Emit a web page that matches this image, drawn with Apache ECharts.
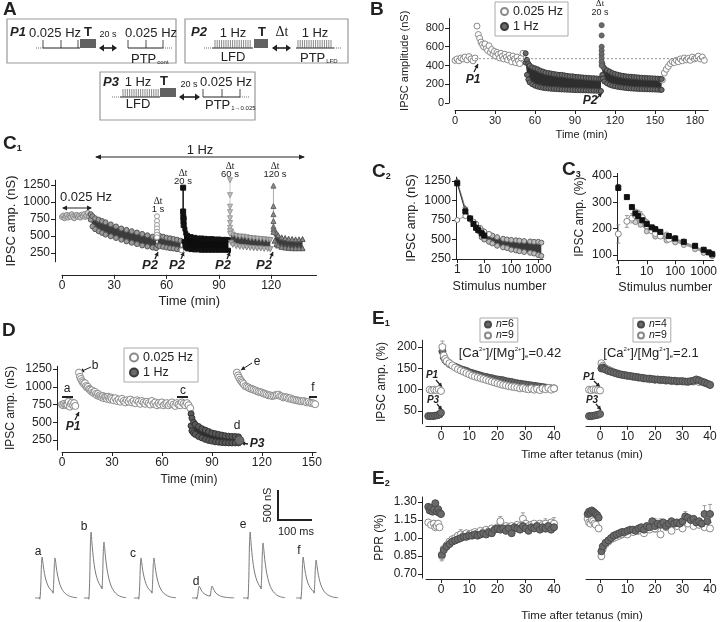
<!DOCTYPE html>
<html>
<head>
<meta charset="utf-8">
<script src="https://cdn.jsdelivr.net/npm/echarts@6/dist/echarts.min.js"></script>
<style>
html, body { margin: 0; padding: 0; background: #fff; }
#main { width: 720px; height: 622px; }
</style>
</head>
<body>
<div id="main"></div>
<script>
// ---- B: IPSC amplitude over time ----
var bSlowPre = [[0,455],[1.5,470],[3,450],[4.5,480],[6,470],[7.5,490],[9,460],[10.5,495],[12,470],[13.5,450],[15,480],
  [16.5,820],[17.5,730],[18.5,690],[19.5,650],[20.5,625],[21.5,600],[22.5,630],[23.5,580],[24.5,560],[25.5,610],[26.5,540],
  [27.5,570],[28.5,520],[29.5,550],[30.5,500],[31.5,540],[32.5,520],[33.5,480],[34.5,530],[35.5,500],[36.5,470],[37.5,520],
  [38.5,490],[39.5,460],[40.5,510],[41.5,480],[42.5,440],[43.5,500],[44.5,470],[45.5,430],[46.5,490],[47.5,450],[48.5,420],
  [49.5,480],[51,530]];
var bSlowPost = [[155.5,245],[157,320],[158.5,360],[160,390],[161.5,420],[163,440],[164.5,430],[166,455],[167.5,440],
  [169,470],[170.5,450],[172,480],[173.5,460],[175,475],[176.5,455],[178,490],[179.5,470],[181,480],[182.5,500],[184,470],
  [185.5,490],[187,455]];
var bFast1T  = [53,54,55,56,58,60,62,64,66,68,70,72,74,76,78,80,82,84,86,88,90,92,94,96,98,100,102,104,106,108,109.5];
var bFast1Hi = [530,460,420,400,380,370,360,345,335,325,320,315,310,305,300,300,295,290,285,285,280,278,275,272,270,268,265,265,262,260,258];
var bFast1Lo = [430,300,250,220,200,185,175,168,162,158,155,152,150,148,146,144,143,142,140,139,138,137,136,135,134,133,132,131,130,130,128];
var bSpike = [[110,830],[110,720],[110,600],[110,560],[110,520],[110,480],[110,440],[110,400]];
var bFast2T  = [110.5,111,112,114,116,118,120,122,124,126,128,130,132,134,136,138,140,142,144,146,148,150,152,154,155];
var bFast2Hi = [420,390,370,350,335,320,310,302,295,290,285,282,280,278,275,272,270,268,266,265,263,262,260,258,255];
var bFast2Lo = [300,260,230,210,195,185,178,172,168,164,160,157,155,153,151,150,148,147,146,145,144,143,142,140,140];
var bBaseX = [15, 187];
var bBaseV = 473;
var bTicksX = [0,30,60,90,120,150,180];
var bTicksY = [0,200,400,600,800];

// ---- C1 ----
var c1Slow = [[0,780],[0.7,800],[1.4,760],[2.1,790],[2.8,810],[3.5,770],[4.2,800],[4.9,780],[5.6,820],[6.3,790],[7,760],
  [7.7,800],[8.4,810],[9.1,780],[9.8,800],[10.5,770],[11.2,810],[11.9,790],[12.6,820],[13.3,780],[14,800],[14.7,840],[15.4,790],[16.1,810]];
var c1B1T  = [16.5,17.5,19,21,23,25,28,31,34,37,40,43,46,49,52,54];
var c1B1Hi = [820,790,760,740,720,700,670,640,610,590,570,550,530,510,490,470];
var c1B1Lo = [740,640,600,570,545,520,495,470,445,420,400,380,360,345,330,320];
var c1Sp1 = [[54.5,790],[54.5,720],[54.5,660],[54.5,610],[54.5,560],[54.5,520],[54.5,480]];
var c1B2T  = [55,56,58,60,62,64,66,68];
var c1B2Hi = [520,500,490,475,465,455,445,430];
var c1B2Lo = [360,350,340,330,320,315,305,300];
var c1Last = [[68.6,290]];
var c1Sp2 = [[69.5,1210],[69.5,860],[69.6,780],[69.7,720],[69.8,660]];
var c1B3T  = [70,70.5,71,72,74,76,78,80,82,84,86,88,90,92,94,95.5];
var c1B3Hi = [760,600,540,510,490,480,470,470,465,460,460,455,455,450,450,445];
var c1B3Lo = [420,360,330,310,300,295,295,290,290,290,290,290,290,290,290,290];
var c1Sp3 = [[96.4,1320],[96.4,1100],[96.4,930],[96.4,850],[96.4,760],[96.4,690],[96.4,620],[96.4,570],[96.4,530]];
var c1B4T  = [97,98,100,102,104,106,108,110,112,114,116,118,119.5];
var c1B4Hi = [560,520,500,490,490,480,470,465,460,455,450,445,440];
var c1B4Lo = [400,370,350,340,335,330,325,320,315,315,310,310,305];
var c1Sp4 = [[121.3,1240],[121.3,940],[121.3,820],[121.3,720],[121.3,640],[121.3,600],[121.3,560]];
var c1B5T  = [122,123,124,126,128,130,132,134,136,138];
var c1B5Hi = [590,540,510,480,470,460,455,450,450,455];
var c1B5Lo = [430,380,360,340,330,325,320,320,320,320];
var c1TicksX = [0,30,60,90,120];
var c1TicksY = [250,500,750,1000,1250];

// ---- C2 / C3 (log stimulus number) ----
var logTicks = [1,10,100,1000];
var c2Sq   = [[1,1220],[2,860],[3,770],[4,700],[5,650],[6,620],[8,580],[10,550]];
var c2Tri  = [[1,1250],[2,900],[3,780],[4,700],[5,660],[7,610],[10,570]];
var c2Inv  = [[1,1230],[2,880],[3,750],[4,690],[6,640],[8,600]];
var c2Open = [[1,750],[2,800],[3,760],[4,730],[5,700],[7,650],[10,600],[15,570]];
var c2CloudT  = [8,10,15,20,30,50,70,100,150,200,300,500,700,1000,1300];
var c2CloudHi = [620,600,570,550,530,510,500,495,490,485,480,475,470,470,460];
var c2CloudLo = [530,500,470,450,420,400,390,370,360,350,340,330,320,300,290];
var c2TicksY = [250,500,750,1000,1250];
var c3Sq   = [[1,355],[2,320],[3,282],[4,258],[5,248],[7,232],[10,218],[15,205],[20,198],[30,188],[60,172],[100,163],
  [200,150],[500,135],[1000,120],[1500,110],[2000,103]];
var c3Open = [[1,180],[2,228],[3,240],[4,250],[5,255],[6,250],[7,242],[8,230],[10,212],[15,192],[20,182],[30,172],[60,160],[2000,100]];
var c3OpenErr = [[1,145,215],[2,205,250],[3,222,258],[4,235,265],[5,240,270],[6,235,265]];
var c3SqErr = [[1,345,368]];
var c3CloudT  = [4,6,10,20,50,100,200,500,1000,2000];
var c3CloudHi = [265,250,225,200,178,165,152,135,120,106];
var c3CloudLo = [225,215,190,170,155,148,138,122,108,96];
var c3TicksY = [100,200,300,400];

// ---- D ----
var dSlowA = [[0,750],[0.7,740],[1.3,760],[2,745],[2.7,740],[3.3,750],[4,790],[4.7,720],[5.3,760],[6,780],[6.7,740],[7.3,770],[8,730]];
var dSlowB = [[10.2,1200],[10.8,1140],[11.4,1110],[12,1080],[12.6,1060],[13.2,1040],[13.8,1050],[14.4,1010],[15,990],[15.6,1000],
  [16.2,970],[16.8,960],[17.4,940],[18,950],[18.6,920],[19.2,910],[19.8,930],[20.4,900],[21,880],[21.6,900],[22.2,870],[22.8,880],
  [23.4,860],[24,850],[24.6,870],[25.2,840],[25.8,860],[26.4,850],[27,830],[27.6,860],[28.2,840],[28.8,820],[29.4,850],
  [30,830],[31,810],[32,840],[33,800],[34,820],[35,790],[36,830],[37,800],[38,780],[39,810],[40,790],[41,820],[42,780],[43,800],
  [44,770],[45,810],[46,790],[47,760],[48,800],[49,780],[50,760],[51,790],[52,770],[53,750],[54,800],[55,760],[56,780],[57,740],
  [58,770],[59,750],[60,780],[61,740],[62,760],[63,770],[64,740],[65,760],[66,780],[67,750],[68,730],[69,770],[70,750],[71,740],
  [72,780],[73,760],[74,740],[75,770],[76,740],[77,700]];
var dFastT  = [77.5,78,79,80,82,84,86,88,90,92,94,96,98,100,102,104,106];
var dFastHi = [620,560,500,470,440,410,390,370,350,340,330,320,310,305,300,300,295];
var dFastLo = [450,380,350,330,300,280,260,245,235,225,220,215,212,210,210,210,210];
var dLast = [[106.5,245]];
var dSlowE = [[105,1200],[105.7,1160],[106.3,1130],[107,1100],[107.7,1080],[108.3,1060],[109,1040],[110,1010],[111,1000],
  [112,990],[113,975],[114,970],[115,960],[116,950],[117,940],[118,930],[119,925],[120,920],[121,905],[122,900],[123,890],
  [124,880],[125,880],[126,870],[127,875],[128,880],[129,885],[130,890],[131,870],[132,865],[133,850],[134,855],[135,850],
  [136,835],[137,840],[138,825],[139,820],[140,815],[141,810],[142,805],[143,800],[144,795],[145,800],[146,790],[147,780],
  [148,790],[149,775],[150,770],[151,765],[152,755]];
var dTicksX = [0,30,60,90,120,150];
var dTicksY = [250,500,750,1000,1250];

// ---- D traces (ms, nS) ----
var trT = [0,10,13,14,15,17,19,21,23,26,30,35,41,48,51,52,53,55,57,59,61,64,68,73,80,88,98,110,124];
var trA = [0,0,15,-20,10,200,560,683,600,470,350,250,175,125,105,120,80,250,560,667,590,460,340,230,140,80,40,15,5];
var trB = [0,0,15,-20,10,320,900,1100,960,760,560,400,285,205,175,200,150,380,780,933,830,650,480,330,200,115,55,20,5];
var trC = [0,0,15,-20,10,200,550,667,590,460,345,245,170,122,102,118,80,250,560,667,590,460,335,225,138,78,38,14,5];
var trD = [0,0,15,-20,5,60,165,200,180,140,105,75,53,38,32,45,30,80,170,200,178,140,100,68,42,24,12,5,2];
var trE = [0,0,15,-20,10,320,900,1100,960,760,560,400,285,205,175,200,150,380,770,917,815,640,470,325,195,112,54,20,5];
var trF = [0,0,15,-20,10,200,560,683,600,470,350,250,175,125,105,120,80,240,530,633,560,440,320,218,132,76,38,14,5];
var trNames = ['a','b','c','d','e','f'];

// ---- E1: IPSC amp (%) after tetanus ----
var e1LPreOpen = [[-4,100],[-3.2,98],[-2.4,100],[-1.6,99],[-0.8,101],[0,97]];
var e1LPreFill = [[-4.5,38],[-3.7,38],[-2.9,38],[-2.1,39],[-1.3,40],[-0.5,42],[0,46]];
var e1LFill = [[0.5,190],[1,176],[1.5,170],[2,166],[3,161],[4,157],[5,154],[6,151],[7,148],[8,146],[9,144],[10,141],[11,139],
  [12,137],[13,135],[14,133],[15,131],[16,130],[17,128],[18,127],[19,125],[20,124],[21,123],[22,122],[23,120],[24,119],[25,118],
  [26,116],[27,115],[28,114],[29,113],[30,112],[31,111],[32,110],[33,109],[34,108],[35,107],[36,106],[37,105],[38,104],[39,103],[40,103]];
var e1LOpen = [[0.5,200],[1,180],[1.5,172],[2,167],[3,162],[4,157],[5,152],[6,148],[7,145],[8,142],[9,139],[10,136],[11,133],
  [12,131],[13,129],[14,127],[15,125],[16,123],[17,121],[18,119],[19,117],[20,115],[21,113],[22,111],[23,110],[24,108],[25,107],
  [26,106],[27,105],[28,103],[29,104],[30,102],[31,101],[32,103],[33,100],[34,102],[35,99],[36,103],[37,101],[38,104],[39,100],[40,103]];
var e1LErr = [[0.5,186,214],[1,168,188],[2,158,175],[3,152,170],[5,145,160],[8,136,150]];
var e1RPreOpen = [[-4,100],[-3.2,99],[-2.4,101],[-1.6,100],[-0.8,99],[0,98]];
var e1RPreFill = [[-4,38],[-3.2,38],[-2.4,39],[-1.6,40],[-0.8,41],[0,43]];
var e1RFill = [[0.5,150],[1,152],[1.5,149],[2,147],[3,144],[4,142],[5,140],[6,138],[7,136],[8,135],[9,134],[10,133],[11,132],
  [12,131],[13,130],[14,129],[15,128],[16,127],[17,126],[18,126],[19,125],[20,124],[21,124],[22,123],[23,123],[24,122],[25,122],
  [26,121],[27,121],[28,120],[29,120],[30,120],[31,119],[32,119],[33,120],[34,121],[35,124],[36,122],[37,119],[38,117],[39,114],[40,111]];
var e1ROpen = [[0.5,162],[1,156],[1.5,152],[2,150],[3,147],[4,144],[5,141],[6,139],[7,137],[8,135],[9,134],[10,132],[12,130],
  [14,128],[16,126],[18,124],[20,123],[22,122],[24,121],[26,120],[28,119],[30,119],[32,118],[34,119],[36,118],[38,116],[40,112]];
var e1RErr = [[0.5,142,168],[1,146,160],[35,118,130]];
var e1TicksX = [0,10,20,30,40];
var e1TicksY = [50,100,150,200];

// ---- E2: PPR ----
var e2LPreFill = [[-4.5,1.26],[-4,1.23],[-3.5,1.25],[-3,1.22],[-2.5,1.24],[-2,1.29],[-1.5,1.22],[-1,1.24],[-0.5,1.21],[0,1.2]];
var e2LPreOpen = [[-4.5,1.13],[-3.5,1.11],[-2.5,1.12],[-2,1.09],[-1.5,1.10],[-1,1.12],[-0.5,1.09]];
var e2LFill = [[0.3,0.86],[1,0.90],[2,0.93],[3,0.95],[4,0.97],[5,0.98],[6,0.99],[7,1.00],[8,1.01],[9,1.01],[10,1.02],[11,1.02],
  [12,1.03],[13,1.02],[14,1.03],[15,1.04],[16,1.03],[17,1.05],[18,1.04],[19,1.07],[20,1.08],[21,1.07],[22,1.08],[23,1.06],
  [24,1.08],[25,1.04],[26,1.09],[27,1.08],[28,1.07],[29,1.10],[30,1.08],[31,1.06],[32,1.09],[33,1.08],[34,1.10],[35,1.07],
  [36,1.09],[37,1.08],[38,1.10],[39,1.07],[40,1.09]];
var e2LOpen = [[0.3,0.85],[1,0.91],[2,0.94],[3,0.97],[4,0.99],[5,1.00],[6,1.02],[7,1.03],[8,1.02],[9,1.04],[10,1.03],[11,1.04],
  [12,1.05],[13,1.04],[14,1.06],[15,1.05],[16,1.07],[17,1.06],[18,1.08],[19,1.07],[20,1.09],[21,1.14],[22,1.08],[23,1.10],
  [24,1.09],[25,1.10],[26,1.08],[27,1.11],[28,1.10],[29,1.16],[30,1.12],[31,1.10],[32,1.11],[33,1.12],[34,1.10],[35,1.12],
  [36,1.11],[37,1.12],[38,1.10],[39,1.13],[40,1.12]];
var e2LErr = [[0.3,0.81,0.90],[7,0.99,1.07],[21,1.10,1.18],[29,1.11,1.21],[37,1.05,1.16],[40,1.08,1.17]];
var e2RPreFill = [[-4.5,1.20],[-4,1.22],[-3.5,1.21],[-3,1.23],[-2.5,1.22],[-2,1.21],[-1.5,1.20],[-1,1.19],[-0.5,1.17]];
var e2RPreOpen = [[-4.5,1.16],[-4,1.13],[-3.5,1.12],[-3,1.15],[-2.5,1.14],[-2,1.12],[-1.5,1.11],[-0.5,1.08]];
var e2RFill = [[0.5,0.89],[1,0.93],[2,0.96],[3,0.98],[4,1.00],[5,1.02],[6,1.03],[7,1.04],[8,1.05],[9,1.05],[10,1.06],[11,1.07],
  [12,1.07],[13,1.06],[14,1.08],[15,1.09],[16,1.07],[17,1.10],[18,1.09],[19,1.14],[20,1.10],[21,1.12],[22,1.11],[23,1.13],
  [24,1.10],[25,1.12],[26,1.14],[27,1.12],[28,1.13],[29,1.12],[30,1.14],[31,1.18],[32,1.17],[33,1.15],[34,1.16],[35,1.13],
  [36,1.14],[37,1.12],[38,1.20],[39,1.14],[40,1.20]];
var e2ROpen = [[0.5,0.85],[1,0.91],[2,0.95],[3,0.97],[4,0.99],[5,1.00],[6,1.01],[7,1.02],[8,1.03],[9,1.04],[10,1.03],[12,1.05],
  [14,1.06],[16,1.04],[18,1.07],[20,1.08],[22,1.03],[24,1.09],[26,1.06],[28,1.10],[30,1.08],[32,1.12],[34,1.10],[36,1.11],
  [38,1.09],[40,1.08]];
var e2RErr = [[0.5,0.82,0.90],[20,1.05,1.16],[22,1.04,1.16],[31,1.12,1.22],[38,1.13,1.27],[40,1.13,1.28]];
var e2TicksY = [0.70,0.85,1.00,1.15,1.30];

var FF = '"Liberation Sans", Arial, sans-serif';
var INK = '#222';
var chart = echarts.init(document.getElementById('main'));

// ---------- helpers ----------
function plain(v) { return String(v); }
function xAx(i, type, min, max, ticks, extra) {
  return Object.assign({
    type: type, gridIndex: i, min: min, max: max, splitLine: { show: false },
    axisLine: { show: true, onZero: false, lineStyle: { color: INK, width: 1 } },
    axisTick: { show: true, length: 4, customValues: ticks, lineStyle: { color: INK } },
    axisLabel: { customValues: ticks, fontSize: 12, color: INK, fontFamily: FF, margin: 5, formatter: plain },
    minorTick: { show: false }
  }, extra || {});
}
function yAx(i, type, min, max, ticks, extra) {
  return xAx(i, type, min, max, ticks, extra);
}
function nm(txt, gap, size) {
  return { name: txt, nameLocation: 'middle', nameGap: gap,
    nameTextStyle: { fontSize: size || 12, color: INK, fontFamily: FF, fontWeight: 'normal' } };
}
function sc(i, name, data, sym, size, fill, stroke, extra) {
  return Object.assign({ type: 'scatter', name: name, xAxisIndex: i, yAxisIndex: i, data: data, symbol: sym, symbolSize: size,
    itemStyle: { color: fill, borderColor: stroke, borderWidth: 1, opacity: 1 }, silent: true }, extra || {});
}
function lm(i, name, data, sym, size, fill, stroke, lineColor, extra) {
  return Object.assign({ type: 'line', name: name, xAxisIndex: i, yAxisIndex: i, data: data, symbol: sym, symbolSize: size,
    showSymbol: true, itemStyle: { color: fill, borderColor: stroke, borderWidth: 1 },
    lineStyle: { color: lineColor, width: 1 }, silent: true }, extra || {});
}
function band(i, T, hi, lo, color) {
  return { type: 'custom', xAxisIndex: i, yAxisIndex: i, data: [[T[0], hi[0]]], silent: true,
    renderItem: function (p, api) {
      var pts = [];
      for (var k = 0; k < T.length; k++) pts.push(api.coord([T[k], hi[k]]));
      for (var j = T.length - 1; j >= 0; j--) pts.push(api.coord([T[j], lo[j]]));
      return { type: 'polygon', shape: { points: pts }, style: { fill: color } };
    } };
}
function edgeData(T, hi, lo) {
  var d = [];
  for (var k = 0; k < T.length; k++) { d.push([T[k], hi[k]]); d.push([T[k], lo[k]]); }
  return d;
}
function errs(i, data, color) {
  return { type: 'custom', xAxisIndex: i, yAxisIndex: i, data: data, silent: true, z: 1,
    renderItem: function (p, api) {
      var a = api.coord([api.value(0), api.value(1)]);
      var b = api.coord([api.value(0), api.value(2)]);
      var st = { stroke: color, lineWidth: 0.8 };
      return { type: 'group', children: [
        { type: 'line', shape: { x1: a[0], y1: a[1], x2: b[0], y2: b[1] }, style: st },
        { type: 'line', shape: { x1: a[0] - 2, y1: a[1], x2: a[0] + 2, y2: a[1] }, style: st },
        { type: 'line', shape: { x1: b[0] - 2, y1: b[1], x2: b[0] + 2, y2: b[1] }, style: st }
      ] };
    } };
}
function trace(i, vals, off, name) {
  var d = [];
  for (var k = 0; k < trT.length; k++) d.push([trT[k] + off, vals[k]]);
  return { type: 'line', name: 'trace ' + name, xAxisIndex: i, yAxisIndex: i, data: d, symbol: 'none', smooth: 0.3,
    lineStyle: { color: '#7a7a7a', width: 1 }, silent: true };
}

// ---------- graphics (schematics, labels, arrows) ----------
var G = [];
function T(x, y, s, size, opt) {
  opt = opt || {};
  G.push({ type: 'text', x: x, y: y, silent: true, rotation: opt.rot || 0,
    style: { text: s, fontSize: size, fontFamily: opt.ff || FF, fontWeight: opt.fw || 'normal', fontStyle: opt.fs || 'normal',
      fill: opt.fill || INK, align: opt.align || 'center', verticalAlign: opt.va || 'middle', rich: opt.rich } });
}
function L(x1, y1, x2, y2, w, c, dash) {
  G.push({ type: 'line', silent: true, shape: { x1: x1, y1: y1, x2: x2, y2: y2 },
    style: { stroke: c || INK, lineWidth: w || 1, lineDash: dash || null } });
}
function R(x, y, w, h, fill, stroke, lw) {
  G.push({ type: 'rect', silent: true, shape: { x: x, y: y, width: w, height: h },
    style: { fill: fill || 'none', stroke: stroke || null, lineWidth: lw || 1 } });
}
function head(x, y, a, len, wid) {
  var c = Math.cos(a), s = Math.sin(a);
  G.push({ type: 'polygon', silent: true, shape: { points: [[x, y], [x - len * c + wid * s, y - len * s - wid * c], [x - len * c - wid * s, y - len * s + wid * c]] },
    style: { fill: INK } });
}
function AR(x1, y1, x2, y2, w) {
  L(x1, y1, x2, y2, w || 1.3);
  head(x2, y2, Math.atan2(y2 - y1, x2 - x1), 4, 2.2);
}
function DAR(x1, x2, y, w, len, wid) {
  L(x1 + 1, y, x2 - 1, y, w);
  head(x2, y, 0, len, wid);
  head(x1, y, Math.PI, len, wid);
}
function dense(x1, x2, y1, y2) {
  for (var x = x1; x <= x2; x += 2.2) L(x, y1, x, y2, 0.7, '#555');
}
function tet(x, y, w, h) {
  R(x, y, w, h, '#4a4a4a');
  for (var k = x + 1; k < x + w; k += 2) L(k, y, k, y + h, 0.6, '#9a9a9a');
}
var subRich = { m: { fontSize: 13, fontFamily: FF, fill: INK }, s: { fontSize: 6, fontFamily: FF, verticalAlign: 'bottom', padding: [0, 0, 0, 1] } };
var letterRich = { m: { fontSize: 19, fontWeight: 'bold', fontFamily: FF }, s: { fontSize: 9, fontWeight: 'bold', fontFamily: FF, verticalAlign: 'bottom' } };

// panel letters
T(3, 10, 'A', 19, { fw: 'bold', align: 'left' });
T(370, 10, 'B', 19, { fw: 'bold', align: 'left' });
T(3, 144, '{m|C}{s|1}', 19, { align: 'left', rich: letterRich });
T(372, 172, '{m|C}{s|2}', 19, { align: 'left', rich: letterRich });
T(562, 170, '{m|C}{s|3}', 19, { align: 'left', rich: letterRich });
T(2, 331, 'D', 19, { fw: 'bold', align: 'left' });
T(372, 319, '{m|E}{s|1}', 19, { align: 'left', rich: letterRich });
T(372, 479, '{m|E}{s|2}', 19, { align: 'left', rich: letterRich });

// A: protocols
R(7, 19, 169, 44, '#fff', '#999', 1.2);
R(185, 19, 163, 44, '#fff', '#999', 1.2);
R(100, 72, 155, 48, '#fff', '#999', 1.2);
var pb = { fw: 'bold', fs: 'italic', align: 'left' };
T(10, 32, 'P1', 13, pb);
T(55, 33, '0.025 Hz', 13);
T(88, 32, 'T', 13, { fw: 'bold' });
T(108, 35, '20 s', 9);
T(151, 33, '0.025 Hz', 13);
L(36, 48, 43, 48, 1, '#777', [1, 1]);
L(43, 48, 80, 48, 1);
L(43, 40, 43, 48, 0.8); L(61, 40, 61, 48, 0.8); L(78, 40, 78, 48, 0.8);
tet(80, 39, 16, 9);
DAR(99, 117, 48, 1.6, 5, 3.5);
L(128, 48, 163, 48, 1);
L(128, 40, 128, 48, 0.8); L(146, 40, 146, 48, 0.8); L(163, 40, 163, 48, 0.8);
L(163, 48, 172, 48, 1, '#777', [1, 1]);
T(131, 59, '{m|PTP}{s|cont}', 13, { align: 'left', rich: subRich });

T(191, 32, 'P2', 13, pb);
T(233, 33, '1 Hz', 13);
L(204, 48, 212, 48, 1, '#777', [1, 1]);
L(212, 48, 253, 48, 1);
dense(215, 252, 40, 48);
tet(254, 39, 14, 9);
T(262, 32, 'T', 13, { fw: 'bold' });
T(282, 32, '\u0394t', 14, { ff: '"Liberation Serif", serif' });
DAR(272, 291, 48, 1.6, 5, 3.5);
T(315, 33, '1 Hz', 13);
L(296, 48, 334, 48, 1);
dense(298, 333, 40, 48);
L(334, 48, 342, 48, 1, '#777', [1, 1]);
T(233, 57, 'LFD', 13);
T(300, 58, '{m|PTP}{s|LFD}', 13, { align: 'left', rich: subRich });

T(103, 82, 'P3', 13, pb);
T(138, 82, '1 Hz', 13);
L(112, 97, 120, 97, 1, '#777', [1, 1]);
L(120, 97, 160, 97, 1);
dense(123, 159, 89, 97);
tet(160, 88, 16, 9);
T(164, 81, 'T', 13, { fw: 'bold' });
T(189, 85, '20 s', 9);
DAR(179, 200, 97, 1.6, 5, 3.5);
T(226, 82, '0.025 Hz', 13);
L(203, 97, 240, 97, 1);
L(203, 89, 203, 97, 0.8); L(222, 89, 222, 97, 0.8); L(240, 89, 240, 97, 0.8);
L(240, 97, 249, 97, 1, '#777', [1, 1]);
T(138, 104, 'LFD', 13);
T(205, 105, '{m|PTP}{s|1\u21920.025}', 13, { align: 'left', rich: subRich });

// B annotations
T(600, 4, '\u0394t', 9, { ff: '"Liberation Serif", serif' });
T(600, 13, '20 s', 9);
T(473, 80, 'P1', 12, { fw: 'bold', fs: 'italic' });
AR(474, 72, 478, 64);
T(590, 101, 'P2', 12, { fw: 'bold', fs: 'italic' });
AR(596, 99, 602, 93);

// C1 annotations
T(200, 150, '1 Hz', 13);
DAR(95, 305, 157, 1, 6, 2.5);
T(86, 197, '0.025 Hz', 13);
DAR(62, 92, 208, 1, 5, 2.5);
var dtS = { ff: '"Liberation Serif", serif' };
T(158, 201, '\u0394t', 9.5, dtS); T(158, 209, '1 s', 9.5);
T(183, 173, '\u0394t', 9.5, dtS); T(183, 181, '20 s', 9.5);
T(230, 166, '\u0394t', 9.5, dtS); T(230, 174, '60 s', 9.5);
T(275, 166, '\u0394t', 9.5, dtS); T(275, 174, '120 s', 9.5);
var p2x = [150, 177, 223, 264], p2t = [157, 183, 229, 272];
for (var q = 0; q < 4; q++) {
  T(p2x[q], 265, 'P2', 13, { fw: 'bold', fs: 'italic' });
  AR(p2t[q] - 2, 259, p2t[q] + 1, 252);
}

// D annotations
L(62, 397, 73, 397, 2); T(67, 389, 'a', 12);
L(177, 397, 188, 397, 2); T(183, 391, 'c', 12);
L(309, 397, 317, 397, 2); T(313, 388, 'f', 12);
T(95, 366, 'b', 12); AR(91, 367, 80, 372, 1);
T(257, 362, 'e', 12); AR(252, 363, 241, 370, 1);
T(237, 426, 'd', 12);
T(73, 427, 'P1', 12, { fw: 'bold', fs: 'italic' }); AR(75, 420, 79, 412);
T(257, 444, 'P3', 12, { fw: 'bold', fs: 'italic' }); AR(248, 444, 241, 443);

// traces: labels and scale bar
var trLab = [[38, 552], [84, 527], [133, 554], [196, 582], [243, 525], [299, 551]];
for (var q2 = 0; q2 < 6; q2++) T(trLab[q2][0], trLab[q2][1], trNames[q2], 12);
L(278, 490, 278, 521, 2);
L(277, 520, 312, 520, 2);
T(268, 505, '500 nS', 11, { rot: Math.PI / 2 });
T(296, 532, '100 ms', 11);

// E annotations
var caRich = { m: { fontSize: 13, fontFamily: FF }, p: { fontSize: 6, fontFamily: FF, verticalAlign: 'top' }, s: { fontSize: 6, fontFamily: FF, verticalAlign: 'bottom' } };
T(510, 353, '{m|[Ca}{p|2+}{m|]/[Mg}{p|2+}{m|]}{s|e}{m|=0.42}', 13, { rich: caRich });
T(651, 353, '{m|[Ca}{p|2+}{m|]/[Mg}{p|2+}{m|]}{s|e}{m|=2.1}', 13, { rich: caRich });
var pe = { fw: 'bold', fs: 'italic' };
T(432, 375, 'P1', 10, pe); AR(436, 380, 442, 387, 1.2);
T(433, 400, 'P3', 10, pe); AR(437, 404, 442, 410, 1.2);
T(589, 377, 'P1', 10, pe); AR(594, 381, 600, 387, 1.2);
T(592, 400, 'P3', 10, pe); AR(596, 404, 601, 410, 1.2);
T(582, 455, 'Time after tetanus (min)', 11.5);
T(582, 616, 'Time after tetanus (min)', 11.5);

// ---------- axes ----------
var grids = [
  { left: 455, top: 18.6, width: 253.3, height: 84.4 },   // 0 B
  { left: 62, top: 180.2, width: 254.5, height: 81.6 },   // 1 C1
  { left: 456, top: 177.1, width: 87, height: 81.9 },     // 2 C2
  { left: 617, top: 173.4, width: 99.6, height: 86.9 },   // 3 C3
  { left: 62, top: 366.2, width: 254, height: 83.8 },     // 4 D
  { left: 35, top: 520, width: 310, height: 90 },         // 5 traces
  { left: 426, top: 340.2, width: 128, height: 83.6 },    // 6 E1 left
  { left: 586, top: 340.2, width: 124, height: 83.6 },    // 7 E1 right
  { left: 426, top: 497, width: 128, height: 81 },        // 8 E2 left
  { left: 586, top: 497, width: 124, height: 81 }         // 9 E2 right
];
var e2fmt = function (v) { return Number(v).toFixed(2); };
var smallLab = function (ticks) { return { customValues: ticks, fontSize: 11, color: INK, fontFamily: FF, margin: 5, formatter: plain }; };
var xAxes = [
  xAx(0, 'value', 0, 190, bTicksX, Object.assign({ offset: 7, axisLabel: smallLab(bTicksX) }, nm('Time (min)', 19, 11))),
  xAx(1, 'value', 0, 146, c1TicksX, Object.assign({ offset: 13 }, nm('Time (min)', 20, 13))),
  xAx(2, 'log', 0.9, 1500, logTicks, Object.assign({ logBase: 10 }, nm('Stimulus number', 21, 12.5))),
  xAx(3, 'log', 0.9, 2200, logTicks, Object.assign({ logBase: 10 }, nm('Stimulus number', 21, 12.5))),
  xAx(4, 'value', 0, 152.5, dTicksX, Object.assign({ offset: 2 }, nm('Time (min)', 22, 12))),
  { type: 'value', gridIndex: 5, min: 0, max: 912, show: false },
  xAx(6, 'value', -5.3, 40, e1TicksX, { offset: 2 }),
  xAx(7, 'value', -5.1, 40, e1TicksX, { offset: 2 }),
  xAx(8, 'value', -5.3, 40, e1TicksX, { offset: 1 }),
  xAx(9, 'value', -5.1, 40, e1TicksX, { offset: 1 })
];
var yAxes = [
  yAx(0, 'value', 0, 900, bTicksY, Object.assign({ offset: 6, axisLabel: smallLab(bTicksY) }, nm('IPSC amplitude (nS)', 39, 11))),
  yAx(1, 'value', 120, 1320, c1TicksY, Object.assign({ offset: 7 }, nm('IPSC amp. (nS)', 37, 13))),
  yAx(2, 'value', 250, 1300, c2TicksY, nm('IPSC amp. (nS)', 38, 12.5)),
  yAx(3, 'value', 80, 410, c3TicksY, nm('IPSC amp. (%)', 31, 12)),
  yAx(4, 'value', 110, 1290, dTicksY, Object.assign({ offset: 5 }, nm('IPSC amp. (nS)', 40, 12))),
  { type: 'value', gridIndex: 5, min: -200, max: 1300, show: false },
  yAx(6, 'value', 20, 216, e1TicksY, Object.assign({ offset: 4 }, nm('IPSC amp. (%)', 34, 12))),
  { type: 'value', gridIndex: 7, min: 20, max: 216, show: false },
  yAx(8, 'value', 0.667, 1.342, e2TicksY, Object.assign({ offset: 4, axisLabel: { customValues: e2TicksY, fontSize: 12, color: INK, fontFamily: FF, margin: 5, formatter: e2fmt } }, nm('PPR (%)', 36, 12))),
  { type: 'value', gridIndex: 9, min: 0.667, max: 1.342, show: false }
];

// ---------- series ----------
var OPEN = ['#fff', '#8a8a8a'];
var series = [
  // B
  { type: 'line', name: 'baseline', xAxisIndex: 0, yAxisIndex: 0, data: bBaseX.map(function (x) { return [x, bBaseV]; }),
    symbol: 'none', lineStyle: { color: '#777', width: 0.8, type: [2, 2] }, silent: true },
  sc(0, '0.025 Hz', bSlowPre, 'circle', 6, OPEN[0], OPEN[1]),
  sc(0, '0.025 Hz', bSlowPost, 'circle', 6, OPEN[0], OPEN[1]),
  band(0, bFast1T, bFast1Hi, bFast1Lo, '#2e2e2e'),
  band(0, bFast2T, bFast2Hi, bFast2Lo, '#2e2e2e'),
  sc(0, '1 Hz', edgeData(bFast1T, bFast1Hi, bFast1Lo), 'circle', 5, '#6a6a6a', '#3a3a3a'),
  sc(0, '1 Hz', edgeData(bFast2T, bFast2Hi, bFast2Lo), 'circle', 5, '#6a6a6a', '#3a3a3a'),
  sc(0, '1 Hz', bSpike, 'circle', 5, '#6a6a6a', '#5a5a5a'),

  // C1
  sc(1, 'c1 ctrl', c1Slow, 'circle', 5, '#c8c8c8', '#888'),
  band(1, c1B1T, c1B1Hi, c1B1Lo, '#3c3c3c'),
  sc(1, 'c1 ctrl', edgeData(c1B1T, c1B1Hi, c1B1Lo), 'circle', 5, '#9a9a9a', '#555'),
  lm(1, 'c1 1s', c1Sp1, 'circle', 5, '#fff', '#999', '#bbb'),
  band(1, c1B2T, c1B2Hi, c1B2Lo, '#3c3c3c'),
  sc(1, 'c1 ctrl', edgeData(c1B2T, c1B2Hi, c1B2Lo), 'circle', 5, '#9a9a9a', '#555'),
  sc(1, 'c1 ctrl', c1Last, 'circle', 5, '#fff', '#888'),
  band(1, c1B3T, c1B3Hi, c1B3Lo, '#0c0c0c'),
  sc(1, 'c1 20s', edgeData(c1B3T, c1B3Hi, c1B3Lo), 'rect', 4, '#111', '#111'),
  lm(1, 'c1 20s', c1Sp2, 'rect', 5, '#111', '#111', '#111', { lineStyle: { color: '#111', width: 1.5 } }),
  band(1, c1B4T, c1B4Hi, c1B4Lo, '#3c3c3c'),
  sc(1, 'c1 60s', edgeData(c1B4T, c1B4Hi, c1B4Lo), 'triangle', 5, '#b5b5b5', '#888', { symbolRotate: 180 }),
  lm(1, 'c1 60s', c1Sp3, 'triangle', 5, '#c0c0c0', '#999', '#c8c8c8', { symbolRotate: 180 }),
  band(1, c1B5T, c1B5Hi, c1B5Lo, '#3c3c3c'),
  sc(1, 'c1 120s', edgeData(c1B5T, c1B5Hi, c1B5Lo), 'triangle', 5, '#8a8a8a', '#555'),
  lm(1, 'c1 120s', c1Sp4, 'triangle', 5, '#8a8a8a', '#666', '#aaa'),

  // C2
  band(2, c2CloudT, c2CloudHi, c2CloudLo, '#3a3a3a'),
  sc(2, 'c2 cloud', edgeData(c2CloudT, c2CloudHi, c2CloudLo), 'circle', 5, '#bbb', '#666'),
  lm(2, 'c2 ctrl', c2Open, 'circle', 5, '#fff', '#777', '#999'),
  lm(2, 'c2 60s', c2Inv, 'triangle', 5, '#bbb', '#888', '#aaa', { symbolRotate: 180 }),
  lm(2, 'c2 120s', c2Tri, 'triangle', 5, '#888', '#555', '#888'),
  lm(2, 'c2 20s', c2Sq, 'rect', 5, '#111', '#111', '#333'),

  // C3
  band(3, c3CloudT, c3CloudHi, c3CloudLo, '#9a9a9a'),
  sc(3, 'c3 cloud', edgeData(c3CloudT, c3CloudHi, c3CloudLo), 'circle', 5, '#ccc', '#888'),
  errs(3, c3OpenErr, '#888'),
  errs(3, c3SqErr, '#222'),
  lm(3, 'c3 ctrl', c3Open, 'circle', 6, '#fff', '#888', 'rgba(0,0,0,0)'),
  lm(3, 'c3 20s', c3Sq, 'rect', 5, '#111', '#111', 'rgba(0,0,0,0)'),

  // D
  sc(4, '0.025 Hz', dSlowA, 'circle', 7, OPEN[0], OPEN[1]),
  sc(4, '0.025 Hz', dSlowB, 'circle', 7, OPEN[0], OPEN[1]),
  sc(4, '0.025 Hz', dSlowE, 'circle', 7, OPEN[0], OPEN[1]),
  band(4, dFastT, dFastHi, dFastLo, '#2e2e2e'),
  sc(4, '1 Hz', edgeData(dFastT, dFastHi, dFastLo), 'circle', 6, '#5a5a5a', '#333'),
  sc(4, '1 Hz', dLast, 'circle', 9, '#6a6a6a', '#444'),

  // traces
  trace(5, trA, 0, 'a'), trace(5, trB, 144, 'b'), trace(5, trC, 291, 'c'),
  trace(5, trD, 462, 'd'), trace(5, trE, 612, 'e'), trace(5, trF, 768, 'f'),

  // E1 left
  errs(6, e1LErr, '#888'),
  sc(6, 'n=6', e1LPreFill, 'circle', 7, '#6a6a6a', '#4a4a4a'),
  sc(6, 'n=6', e1LFill, 'circle', 7, '#6a6a6a', '#4a4a4a'),
  sc(6, 'n=9', e1LPreOpen, 'circle', 7, '#fff', '#8a8a8a'),
  sc(6, 'n=9', e1LOpen, 'circle', 7, '#fff', '#8a8a8a'),
  // E1 right
  errs(7, e1RErr, '#888'),
  sc(7, 'n=9', e1RPreOpen, 'circle', 7, '#fff', '#8a8a8a'),
  sc(7, 'n=9', e1ROpen, 'circle', 7, '#fff', '#8a8a8a'),
  sc(7, 'n=4', e1RPreFill, 'circle', 7, '#6a6a6a', '#4a4a4a'),
  sc(7, 'n=4', e1RFill, 'circle', 7, '#6a6a6a', '#4a4a4a'),
  // E2 left
  errs(8, e2LErr, '#888'),
  sc(8, 'n=9', e2LPreOpen, 'circle', 7, '#fff', '#8a8a8a'),
  sc(8, 'n=9', e2LOpen, 'circle', 7, '#fff', '#8a8a8a'),
  sc(8, 'n=6', e2LPreFill, 'circle', 7, '#6a6a6a', '#4a4a4a'),
  sc(8, 'n=6', e2LFill, 'circle', 7, '#6a6a6a', '#4a4a4a'),
  // E2 right
  errs(9, e2RErr, '#888'),
  sc(9, 'n=9', e2RPreOpen, 'circle', 7, '#fff', '#8a8a8a'),
  sc(9, 'n=9', e2ROpen, 'circle', 7, '#fff', '#8a8a8a'),
  sc(9, 'n=4', e2RPreFill, 'circle', 7, '#6a6a6a', '#4a4a4a'),
  sc(9, 'n=4', e2RFill, 'circle', 7, '#6a6a6a', '#4a4a4a')
];

function legendAt(names, left, top, size, fmt) {
  return { data: names, left: left, top: top, orient: 'vertical', itemGap: 2, itemWidth: size, itemHeight: size,
    padding: [3, 5, 3, 5], borderColor: '#aaa', borderWidth: 1, selectedMode: false, formatter: fmt,
    textStyle: { fontSize: 12.5, fontFamily: FF, color: INK, fontWeight: 'normal',
      rich: { i: { fontStyle: 'italic', fontSize: 10.5, fontFamily: FF }, t: { fontSize: 10.5, fontFamily: FF } } } };
}
var nFmt = function (n) { return '{i|n}{t|' + n.slice(1) + '}'; };

chart.setOption({
  animation: false,
  backgroundColor: '#fff',
  textStyle: { fontFamily: FF },
  grid: grids,
  xAxis: xAxes,
  yAxis: yAxes,
  legend: [
    legendAt(['0.025 Hz', '1 Hz'], 495, 2, 7),
    legendAt(['0.025 Hz', '1 Hz'], 124, 348, 8),
    Object.assign(legendAt(['n=6', 'n=9'], 480, 318, 6, nFmt), { itemGap: 0, padding: [1, 4, 1, 4] }),
    Object.assign(legendAt(['n=4', 'n=9'], 633, 318, 6, nFmt), { itemGap: 0, padding: [1, 4, 1, 4] })
  ],
  series: series,
  graphic: { elements: G }
});
</script>
</body>
</html>
